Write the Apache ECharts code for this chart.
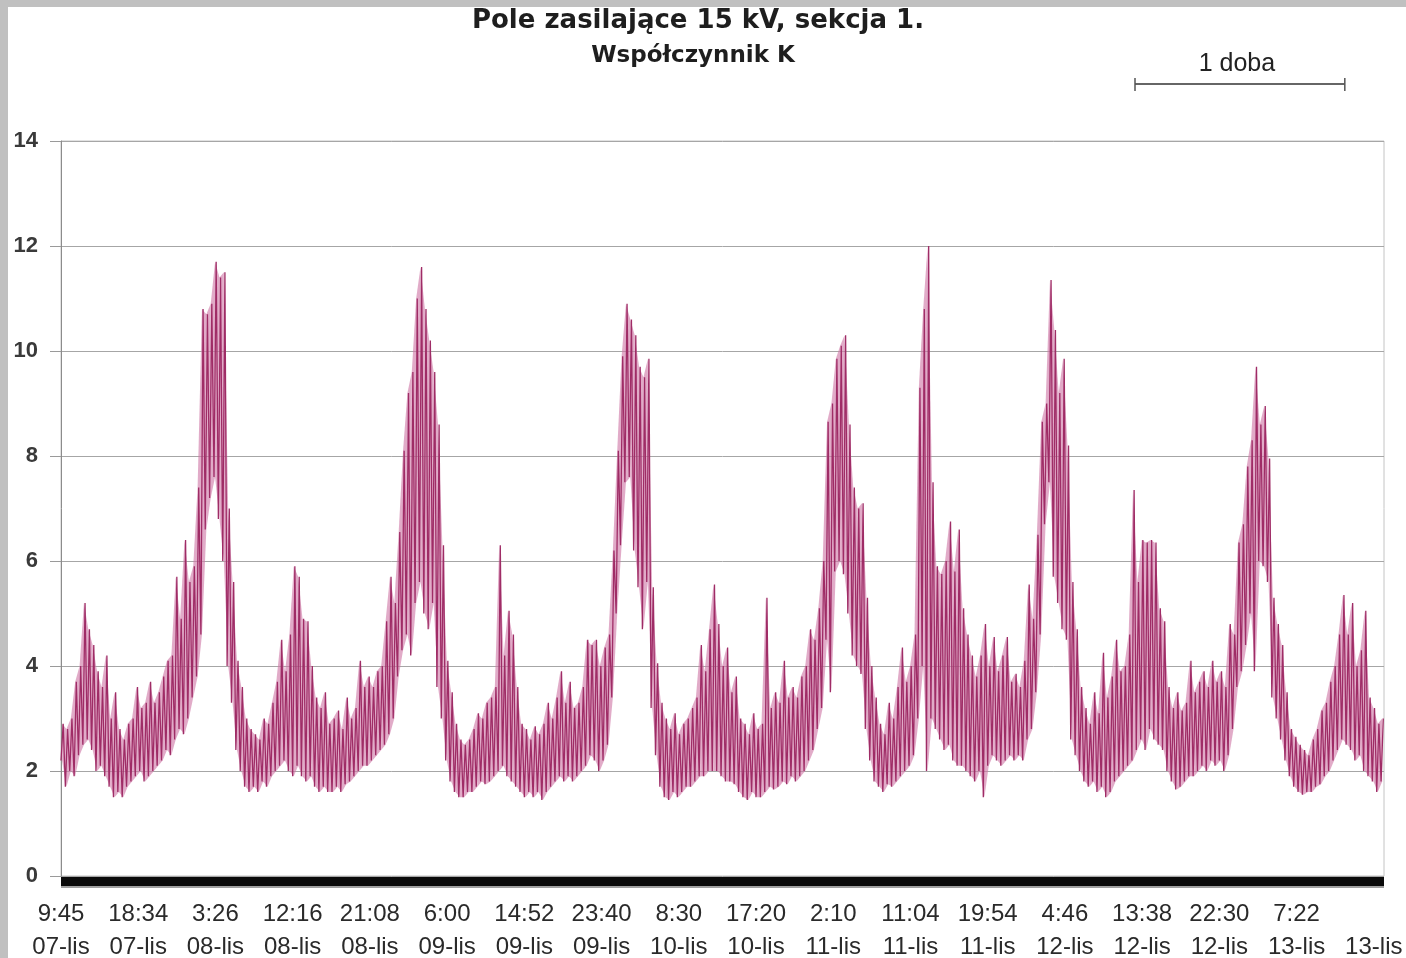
<!DOCTYPE html>
<html>
<head>
<meta charset="utf-8">
<title>Pole zasilające 15 kV, sekcja 1.</title>
<script src="https://cdn.jsdelivr.net/npm/echarts@6/dist/echarts.min.js"></script>
<style>
  html, body { margin: 0; padding: 0; background: #ffffff; }
  #chart { width: 1406px; height: 958px; }
</style>
</head>
<body>
<div id="chart"></div>
<script>
// Texts
const titleMain = 'Pole zasilające 15 kV, sekcja 1.';
const titleSub = 'Współczynnik K';
const scaleLabel = '1 doba';

// X tick labels (one tick every 530 min from 07-lis 9:45)
const tickTimes = ['9:45', '18:34', '3:26', '12:16', '21:08', '6:00', '14:52', '23:40', '8:30',
                   '17:20', '2:10', '11:04', '19:54', '4:46', '13:38', '22:30', '7:22', ''];
const tickDates = ['07-lis', '07-lis', '08-lis', '08-lis', '08-lis', '09-lis', '09-lis', '09-lis', '10-lis',
                   '10-lis', '11-lis', '11-lis', '11-lis', '12-lis', '12-lis', '12-lis', '13-lis', '13-lis'];
const tickStepMin = 530;     // minutes between x ticks
const spanMin = 9080;        // recorded span, minutes
const dayMin = 1440;         // "1 doba"
const slotMin = 30;          // each slot holds the min and max of the K factor

// Coefficient K: minimum in each 30-minute slot
const kLow = [
  2.2, 1.7, 2.0, 1.9, 2.3, 2.5, 2.6, 2.4, 2.0, 2.1,
  1.9, 1.7, 1.5, 1.6, 1.5, 1.7, 1.8, 1.9, 2.0, 1.8,
  1.9, 2.0, 2.1, 2.2, 2.4, 2.3, 2.6, 2.8, 2.7, 3.0,
  3.4, 3.8, 4.6, 6.6, 7.2, 7.6, 6.8, 6.0, 4.0, 3.3,
  2.4, 2.0, 1.7, 1.6, 1.7, 1.6, 1.8, 1.7, 1.9, 2.0,
  2.1, 2.2, 2.0, 1.9, 2.1, 1.9, 1.8, 1.9, 1.7, 1.6,
  1.7, 1.6, 1.6, 1.7, 1.6, 1.75, 1.8, 1.9, 2.0, 2.1,
  2.1, 2.2, 2.3, 2.4, 2.5, 2.7, 3.0, 3.8, 4.3, 4.6,
  4.2, 5.2, 5.6, 5.0, 4.7, 5.2, 3.6, 3.0, 2.2, 1.8,
  1.6, 1.5, 1.5, 1.6, 1.6, 1.7, 1.8, 1.75, 1.8, 1.9,
  2.0, 2.1, 1.9, 1.8, 1.7, 1.6, 1.5, 1.6, 1.5, 1.6,
  1.45, 1.6, 1.7, 1.8, 1.9, 1.8, 1.9, 1.8, 1.9, 2.0,
  2.1, 2.3, 2.2, 2.0, 2.2, 2.5, 3.4, 5.0, 6.3, 7.5,
  7.6, 6.2, 5.5, 4.7, 5.6, 3.2, 2.3, 1.7, 1.5, 1.45,
  1.6, 1.5, 1.6, 1.7, 1.7, 1.8, 1.9, 1.9, 2.0, 2.0,
  2.0, 1.9, 1.8, 1.8, 1.75, 1.6, 1.5, 1.45, 1.6, 1.5,
  1.5, 1.6, 1.7, 1.65, 1.7, 1.8, 1.75, 1.9, 1.8, 1.9,
  2.0, 2.2, 2.4, 2.8, 3.2, 4.5, 3.5, 5.8, 6.0, 5.75,
  5.0, 4.2, 4.0, 3.85, 2.8, 2.2, 1.8, 1.7, 1.6, 1.75,
  1.7, 1.8, 1.9, 2.0, 2.1, 2.3, 3.0, 4.0, 2.0, 3.0,
  2.8, 2.6, 2.4, 2.5, 2.2, 2.1, 2.1, 2.0, 1.9, 1.8,
  2.0, 1.5, 2.1, 2.3, 2.2, 2.1, 2.2, 2.3, 2.2, 2.3,
  2.2, 2.6, 2.8, 3.5, 4.6, 6.7, 7.5, 5.7, 5.2, 4.7,
  4.5, 2.6, 2.3, 2.0, 1.8, 1.7, 1.8, 1.6, 1.7, 1.5,
  1.6, 1.8, 1.9, 2.0, 2.1, 2.2, 2.4, 2.6, 2.4, 2.8,
  2.6, 2.5, 2.4, 2.0, 1.8, 1.65, 1.7, 1.8, 1.9, 1.9,
  2.0, 2.1, 2.0, 2.2, 2.1, 2.2, 2.0, 2.3, 2.8, 3.6,
  3.9, 4.4, 5.0, 3.9, 6.0, 5.9, 5.6, 3.4, 3.0, 2.6,
  2.2, 1.9, 1.7, 1.6, 1.55, 1.6, 1.6, 1.7, 1.75, 1.9,
  2.0, 2.2, 2.4, 2.6, 2.5, 2.4, 2.2, 2.3, 2.0, 1.9,
  1.8, 1.6, 1.8
];

// Coefficient K: maximum in each 30-minute slot
const kHigh = [
  2.9, 2.8, 3.0, 3.7, 4.0, 5.2, 4.7, 4.4, 3.9, 3.6,
  4.2, 3.0, 3.5, 2.8, 2.6, 2.9, 3.0, 3.6, 3.2, 3.3,
  3.7, 3.3, 3.5, 3.8, 4.1, 4.2, 5.7, 4.9, 6.4, 5.6,
  5.9, 7.4, 10.8, 10.7, 10.9, 11.7, 11.4, 11.5, 7.0, 5.6,
  4.1, 3.6, 3.0, 2.8, 2.7, 2.6, 3.0, 2.9, 3.3, 3.7,
  4.5, 3.9, 4.6, 5.9, 5.7, 4.9, 4.85, 4.0, 3.4, 3.2,
  3.5, 2.9, 3.0, 3.15, 2.8, 3.4, 3.0, 3.2, 4.1, 3.6,
  3.8, 3.6, 3.9, 4.0, 4.85, 5.7, 5.2, 6.55, 8.1, 9.2,
  9.6, 11.0, 11.6, 10.8, 10.2, 9.6, 8.6, 6.3, 4.1, 3.5,
  2.9, 2.6, 2.5, 2.6, 2.8, 3.1, 3.0, 3.3, 3.4, 3.6,
  6.3, 4.2, 5.05, 4.6, 3.6, 2.9, 2.8, 2.6, 2.85, 2.7,
  2.9, 3.3, 3.0, 3.4, 3.9, 3.3, 3.7, 3.2, 3.3, 3.6,
  4.5, 4.4, 4.5, 4.0, 4.35, 4.6, 6.2, 8.1, 9.9, 10.9,
  10.6, 10.3, 9.7, 9.5, 9.85, 5.5, 4.05, 3.3, 3.0, 2.8,
  3.1, 2.7, 2.9, 3.0, 3.2, 3.4, 4.4, 3.9, 4.7, 5.55,
  4.8, 4.0, 4.35, 3.5, 3.8, 3.0, 2.9, 2.7, 3.1, 2.8,
  2.9, 5.3, 3.2, 3.5, 3.3, 4.1, 3.4, 3.6, 3.4, 3.8,
  4.0, 4.7, 4.5, 5.1, 6.0, 8.65, 9.0, 9.85, 10.1, 10.3,
  8.6, 7.4, 7.0, 7.1, 5.3, 4.0, 3.4, 2.9, 2.7, 3.3,
  3.0, 3.6, 4.35, 3.7, 4.0, 4.6, 9.3, 10.8, 12.0, 7.5,
  5.9, 5.75, 6.0, 6.75, 5.8, 6.6, 5.1, 4.6, 4.2, 3.8,
  4.2, 4.8, 4.0, 4.55, 3.9, 4.2, 4.55, 3.7, 3.85, 3.6,
  4.1, 5.55, 4.9, 6.5, 8.65, 9.0, 11.35, 10.4, 9.2, 9.85,
  8.2, 5.6, 4.7, 3.6, 3.2, 2.9, 3.5, 3.1, 4.25, 3.4,
  3.8, 4.5, 3.9, 4.0, 4.6, 7.35, 5.6, 6.4, 6.35, 6.4,
  6.35, 5.1, 4.85, 3.6, 3.2, 3.5, 3.15, 3.3, 4.1, 3.5,
  3.7, 3.9, 3.6, 4.1, 3.7, 3.9, 3.6, 4.8, 4.6, 6.35,
  6.7, 7.8, 8.3, 9.7, 8.6, 8.95, 7.95, 5.3, 4.8, 4.4,
  3.5, 2.8, 2.65, 2.5, 2.4, 2.3, 2.6, 2.8, 3.15, 3.3,
  3.7, 4.0, 4.6, 5.35, 4.6, 5.2, 4.0, 4.3, 5.05, 3.4,
  3.2, 2.9, 3.0
];

// Line through each slot's minimum, then its maximum
const kSeries = [];
// Band rows: [slot start, min, max, next slot start, next min, next max]
const bandRows = [];
for (let i = 0; i < kLow.length; i++) {
  kSeries.push([i * slotMin, kLow[i]]);
  kSeries.push([i * slotMin + slotMin / 2, kHigh[i]]);
  if (i + 1 < kLow.length) {
    bandRows.push([i * slotMin + slotMin / 4, kLow[i], kHigh[i],
                   (i + 1) * slotMin + slotMin / 4, kLow[i + 1], kHigh[i + 1]]);
  }
}

// One trapezoid of the min-max band per slot
function renderBand(params, api) {
  const a0 = api.coord([api.value(0), api.value(1)]);
  const a1 = api.coord([api.value(0), api.value(2)]);
  const b1 = api.coord([api.value(3), api.value(5)]);
  const b0 = api.coord([api.value(3), api.value(4)]);
  return {
    type: 'polygon',
    shape: { points: [a0, a1, b1, b0] },
    style: { fill: '#cf78a6', opacity: 0.62, stroke: null }
  };
}

const chart = echarts.init(document.getElementById('chart'), null, { renderer: 'canvas' });

chart.setOption({
  animation: false,
  backgroundColor: '#ffffff',
  grid: {
    left: 61, right: 22, top: 141, bottom: 82,
    show: true, borderColor: '#c4c4c4', borderWidth: 1,
    containLabel: false, outerBoundsMode: 'none'
  },
  xAxis: {
    type: 'value',
    min: 0,
    max: spanMin,
    interval: tickStepMin,
    offset: 5,
    axisLine: { show: true, onZero: false, lineStyle: { color: '#0a0a0a', width: 9, cap: 'butt' } },
    axisTick: { show: false },
    splitLine: { show: false },
    axisLabel: {
      margin: 17,
      fontFamily: 'Liberation Sans, Arial, sans-serif',
      fontSize: 24,
      lineHeight: 33,
      color: '#2a2a2a',
      showMinLabel: true,
      formatter: function (v) {
        if (v % tickStepMin !== 0) return '';
        const k = v / tickStepMin;
        return (tickTimes[k] || ' ') + '\n' + tickDates[k];
      }
    }
  },
  yAxis: {
    type: 'value',
    min: 0,
    max: 14,
    interval: 2,
    axisLine: { show: true, lineStyle: { color: '#8c8c8c', width: 1 } },
    axisTick: { show: true, length: 11, lineStyle: { color: '#9a9a9a' } },
    splitLine: { show: true, lineStyle: { color: '#a6a6a6', width: 1 } },
    axisLabel: {
      margin: 23,
      fontFamily: 'Liberation Sans, Arial, sans-serif',
      fontSize: 22,
      fontWeight: 'bold',
      color: '#3a3a3a'
    }
  },
  series: [
    {
      name: 'kBand',
      type: 'custom',
      data: bandRows,
      renderItem: renderBand,
      encode: { x: [0, 3], y: [1, 2, 4, 5] },
      silent: true,
      clip: true,
      z: 2
    },
    {
      name: titleSub,
      type: 'line',
      data: kSeries,
      showSymbol: false,
      symbol: 'none',
      silent: true,
      lineStyle: { color: '#9f2c66', width: 1.3 },
      z: 3
    }
  ]
});

// Frame strips, titles and the one-day scale bar
const px0 = chart.convertToPixel({ xAxisIndex: 0 }, 0);
const pxEnd = chart.convertToPixel({ xAxisIndex: 0 }, spanMin);
const dayPx = chart.convertToPixel({ xAxisIndex: 0 }, dayMin) - px0;
const zeroY = chart.convertToPixel({ yAxisIndex: 0 }, 0);
const barLeft = 1135;
const barY = 84;

chart.setOption({
  graphic: [
    { type: 'rect', silent: true, shape: { x: 0, y: 0, width: 1406, height: 7 }, style: { fill: '#c0c0c0' } },
    { type: 'rect', silent: true, shape: { x: 0, y: 0, width: 8, height: 958 }, style: { fill: '#c0c0c0' } },
    { type: 'rect', silent: true, shape: { x: px0, y: zeroY + 10, width: pxEnd - px0, height: 2 }, style: { fill: '#a0a0a0' } },
    {
      type: 'text', silent: true, x: 698, y: 21,
      style: {
        text: titleMain, fill: '#1e1e1e',
        font: 'bold 26px "DejaVu Sans", sans-serif',
        textAlign: 'center', textVerticalAlign: 'middle', align: 'center', verticalAlign: 'middle'
      }
    },
    {
      type: 'text', silent: true, x: 693, y: 56,
      style: {
        text: titleSub, fill: '#1e1e1e',
        font: 'bold 23px "DejaVu Sans", sans-serif',
        textAlign: 'center', textVerticalAlign: 'middle', align: 'center', verticalAlign: 'middle'
      }
    },
    {
      type: 'text', silent: true, x: barLeft + dayPx / 2 - 3, y: 64,
      style: {
        text: scaleLabel, fill: '#222222',
        font: '25px "Liberation Sans", Arial, sans-serif',
        textAlign: 'center', textVerticalAlign: 'middle', align: 'center', verticalAlign: 'middle'
      }
    },
    { type: 'line', silent: true, shape: { x1: barLeft, y1: barY, x2: barLeft + dayPx, y2: barY }, style: { stroke: '#333333', lineWidth: 1.5 } },
    { type: 'line', silent: true, shape: { x1: barLeft, y1: barY - 6, x2: barLeft, y2: barY + 7 }, style: { stroke: '#555555', lineWidth: 1.5 } },
    { type: 'line', silent: true, shape: { x1: barLeft + dayPx, y1: barY - 6, x2: barLeft + dayPx, y2: barY + 7 }, style: { stroke: '#555555', lineWidth: 1.5 } }
  ]
});
</script>
</body>
</html>
